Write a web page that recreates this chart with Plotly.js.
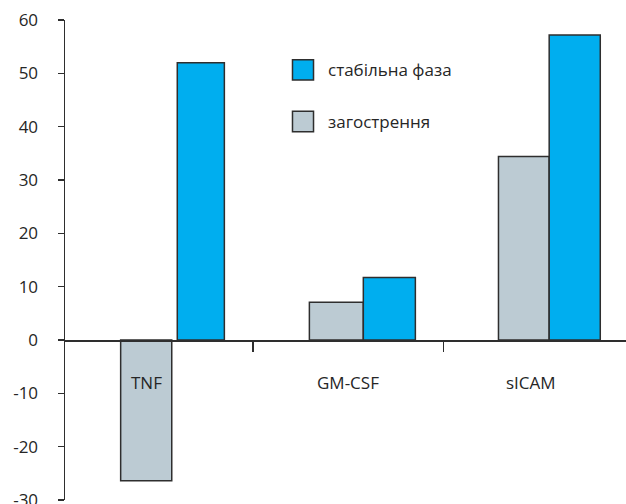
<!DOCTYPE html>
<html>
<head>
<meta charset="utf-8">
<script src="https://cdn.plot.ly/plotly-3.0.1.min.js"></script>
<style>html,body{margin:0;padding:0;background:#fff;}#chart{width:626px;height:504px;}</style>
</head>
<body>
<div id="chart"></div>
<script>
// ---- data ----
const categories = ["TNF", "GM-CSF", "sICAM"];
const exacerbationName = "загострення";
const stableName = "стабільна фаза";
const exacerbation = [-26.4, 7.1, 34.4];
const stable = [52.0, 11.7, 57.2];
const yTickVals = [-30, -20, -10, 0, 10, 20, 30, 40, 50, 60];
const yTickText = ["-30", "-20", "-10", "0", "10", "20", "30", "40", "50", "60"];

// ---- styling ----
const BLUE = "#00aeef";
const GRAY = "#bccbd3";
const EDGE = "#2e2e2e";
const TXT = "#262626";
const FONT = "Open Sans, sans-serif";
const labelShift = [-11, 0, -8];

const traces = [
  {
    type: "bar", name: exacerbationName, x: categories, y: exacerbation,
    offset: [-0.193, -0.203, -0.211], width: [0.268, 0.283, 0.266],
    marker: {color: GRAY, line: {color: EDGE, width: 1.5}},
    showlegend: false, hoverinfo: "x+y"
  },
  {
    type: "bar", name: stableName, x: categories, y: stable,
    offset: [0.104, 0.080, 0.055], width: [0.247, 0.273, 0.268],
    marker: {color: BLUE, line: {color: EDGE, width: 1.5}},
    showlegend: false, hoverinfo: "x+y"
  }
];

// custom legend (large swatches like the reference)
const legendItems = [
  {name: stableName, color: BLUE, y0: 0.917, y1: 0.875},
  {name: exacerbationName, color: GRAY, y0: 0.81, y1: 0.767}
];
const shapes = legendItems.map(it => ({
  type: "rect", xref: "paper", yref: "paper",
  x0: 0.4055, x1: 0.443, y0: it.y1, y1: it.y0,
  fillcolor: it.color, line: {color: EDGE, width: 1.5}
}));
const annotations = legendItems.map(it => ({
  xref: "paper", yref: "paper", x: 0.466, y: (it.y0 + it.y1) / 2,
  xanchor: "left", yanchor: "middle", showarrow: false,
  text: it.name, font: {family: FONT, size: 17, color: TXT}
}));
// category labels drawn above the bars (TNF sits over its bar)
categories.forEach((c, i) => annotations.push({
  xref: "x", yref: "y", x: c, y: 0,
  xanchor: "center", yanchor: "middle", xshift: labelShift[i], yshift: -42,
  showarrow: false, text: c, font: {family: FONT, size: 17, color: TXT}
}));

const layout = {
  width: 626, height: 504,
  margin: {l: 65, r: 0, t: 20, b: 4},
  paper_bgcolor: "#fff", plot_bgcolor: "#fff",
  font: {family: FONT, size: 17, color: TXT},
  showlegend: false,
  xaxis: {
    type: "category", range: [-0.485, 2.458],
    anchor: "free", position: 1/3,
    showline: true, linecolor: EDGE, linewidth: 1.5,
    ticks: "outside", ticklen: 10, tickwidth: 1.5, tickcolor: EDGE,
    tickson: "boundaries", showticklabels: false,
    showgrid: false, zeroline: false
  },
  yaxis: {
    range: [-30, 60], tickvals: yTickVals, ticktext: yTickText,
    ticklabeloverflow: "allow",
    showline: true, linecolor: EDGE, linewidth: 1.5,
    ticks: "outside", ticklen: 6, tickwidth: 1.5, tickcolor: EDGE,
    ticklabelstandoff: 16,
    showgrid: false, zeroline: false,
    tickfont: {family: FONT, size: 17, color: TXT}
  },
  shapes: shapes,
  annotations: annotations
};

Plotly.newPlot("chart", traces, layout, {displayModeBar: false, staticPlot: true});
</script>
</body>
</html>
